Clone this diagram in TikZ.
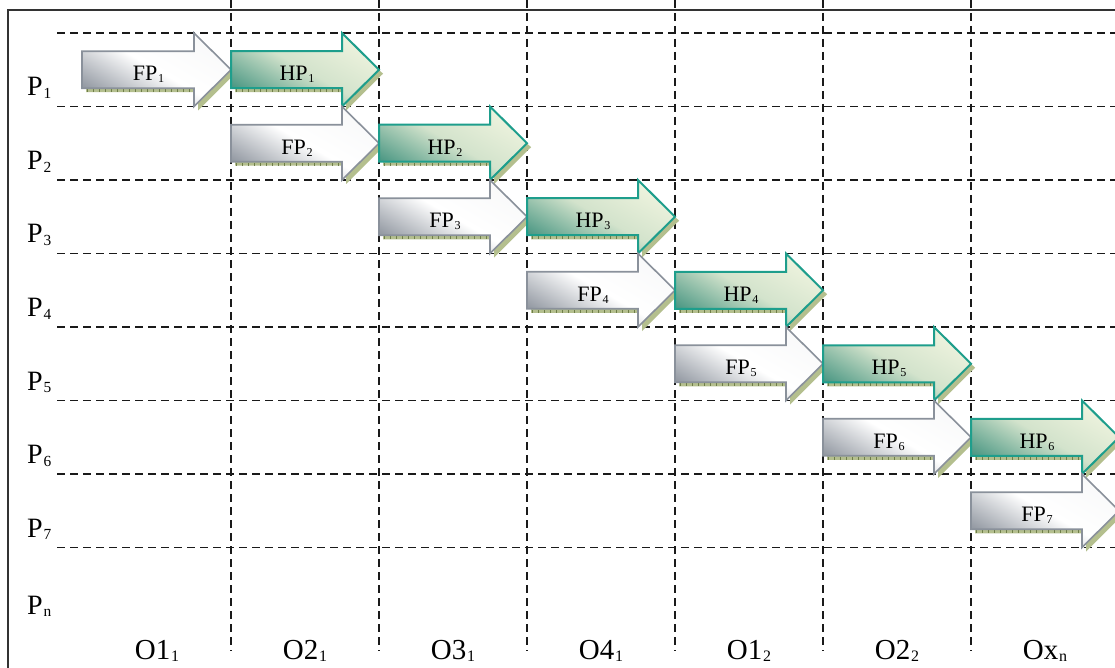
\documentclass[tikz,border=0pt]{standalone}
\usepackage{fontspec}
\setmainfont{Liberation Serif}
\definecolor{fpdark}{HTML}{959BA4}
\definecolor{fpline}{HTML}{8A919B}
\definecolor{hpdark}{HTML}{4E9985}
\definecolor{hpmid}{HTML}{D3E3CC}
\definecolor{hplight}{HTML}{EEF3DE}
\definecolor{hpline}{HTML}{1E9E8C}
\definecolor{shad}{HTML}{B4BF8E}
\definecolor{tickc}{HTML}{6E7D48}
\definecolor{gridc}{HTML}{1A1A1A}
\newcommand\subs[1]{\kern0.03em\raisebox{-0.1em}{\scalebox{0.55}{#1}}}
\tikzset{
  gridline/.style={draw=gridc, line width=1.3pt, dash pattern=on 8pt off 5pt},
  framestyle/.style={draw=black!80, line width=1.5pt},
  fparrow/.style={draw=fpline, line width=1.6pt, left color=fpdark, right color=white!94!fpdark, middle color=white, shading angle=150},
  hparrow/.style={draw=hpline, line width=2pt, left color=hpdark, right color=hplight, middle color=hpmid, shading angle=150},
  shadowfill/.style={fill=shad},
  ticks/.style={draw=tickc, line width=3pt, dash pattern=on 1pt off 5pt},
  arrlab/.style={font=\fontsize{22}{24}\selectfont, inner sep=0pt},
  rowlab/.style={font=\fontsize{28}{30}\selectfont, inner sep=0pt},
  collab/.style={font=\fontsize{29}{31}\selectfont, inner sep=0pt}
}
% #1 style (fp/hp), #2 x0, #3 x1, #4 yc, #5 name, #6 label
\newcommand\flow[6]{%
  \fill[shadowfill, xshift=4pt, yshift=-4pt] ({#2},{#4-18.5}) -- ({#3-37},{#4-18.5}) -- ({#3-37},{#4-36.75}) -- ({#3},{#4}) -- ({#3-37},{#4+36.75}) -- ({#3-37},{#4+18.5}) -- ({#2},{#4+18.5}) -- cycle;
  \draw[ticks] ({#2+5},{#4+21}) -- ({#3-34},{#4+21});
  \path[#1arrow] ({#2},{#4-18.5}) -- ({#3-37},{#4-18.5}) -- ({#3-37},{#4-36.75}) -- ({#3},{#4}) -- ({#3-37},{#4+36.75}) -- ({#3-37},{#4+18.5}) -- ({#2},{#4+18.5}) -- cycle;
  \node[arrlab, anchor=base] (#5) at ({(#2+#3)/2-8},{#4+11}) {#6};
}
\begin{document}
\begin{tikzpicture}[x=1pt,y=-1pt]
\useasboundingbox (0,0) rectangle (1115,668);
\clip (0,0) rectangle (1115,668);
\fill[white] (0,0) rectangle (1115,668);
\draw[framestyle] (8,690) -- (8,10) -- (1140,10);
\foreach \k in {0,...,7} \draw[gridline] (57,{33+73.5*\k}) -- (1115,{33+73.5*\k});
\foreach \k in {0,...,5} \draw[gridline] ({231+148*\k},0) -- ({231+148*\k},651);
% arrows
\flow{fp}{82}{231}{69.75}{fp1}{FP\subs{1}}
\flow{hp}{231}{379}{69.75}{hp1}{HP\subs{1}}
\flow{fp}{231}{379}{143.25}{fp2}{FP\subs{2}}
\flow{hp}{379}{527}{143.25}{hp2}{HP\subs{2}}
\flow{fp}{379}{527}{216.75}{fp3}{FP\subs{3}}
\flow{hp}{527}{675}{216.75}{hp3}{HP\subs{3}}
\flow{fp}{527}{675}{290.25}{fp4}{FP\subs{4}}
\flow{hp}{675}{823}{290.25}{hp4}{HP\subs{4}}
\flow{fp}{675}{823}{363.75}{fp5}{FP\subs{5}}
\flow{hp}{823}{971}{363.75}{hp5}{HP\subs{5}}
\flow{fp}{823}{971}{437.25}{fp6}{FP\subs{6}}
\flow{hp}{971}{1119}{437.25}{hp6}{HP\subs{6}}
\flow{fp}{971}{1119}{510.75}{fp7}{FP\subs{7}}
% row labels
\node[rowlab, anchor=base west] (p1) at (27,96) {P\subs{1}};
\node[rowlab, anchor=base west] (p2) at (27,169.5) {P\subs{2}};
\node[rowlab, anchor=base west] (p3) at (27,243) {P\subs{3}};
\node[rowlab, anchor=base west] (p4) at (27,316.5) {P\subs{4}};
\node[rowlab, anchor=base west] (p5) at (27,390) {P\subs{5}};
\node[rowlab, anchor=base west] (p6) at (27,463.5) {P\subs{6}};
\node[rowlab, anchor=base west] (p7) at (27,537) {P\subs{7}};
\node[rowlab, anchor=base west] (pn) at (27,614) {P\subs{n}};
% column labels
\node[collab, anchor=base] (o11) at (157,659) {O1\subs{1}};
\node[collab, anchor=base] (o21) at (305,659) {O2\subs{1}};
\node[collab, anchor=base] (o31) at (453,659) {O3\subs{1}};
\node[collab, anchor=base] (o41) at (601,659) {O4\subs{1}};
\node[collab, anchor=base] (o12) at (749,659) {O1\subs{2}};
\node[collab, anchor=base] (o22) at (897,659) {O2\subs{2}};
\node[collab, anchor=base] (oxn) at (1045,659) {Ox\subs{n}};
\end{tikzpicture}
\end{document}
